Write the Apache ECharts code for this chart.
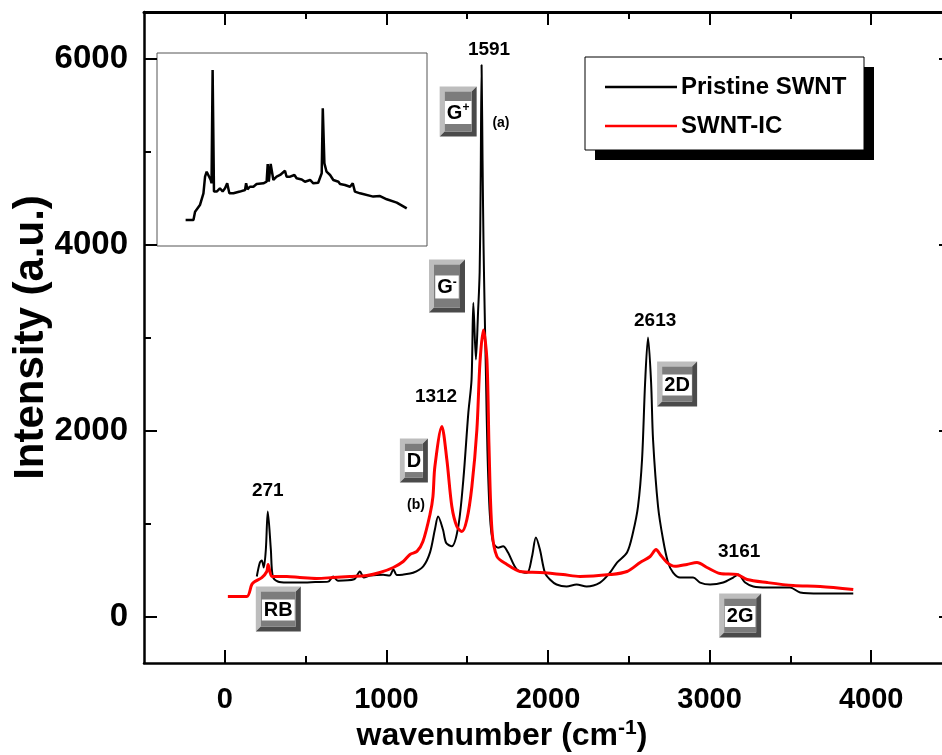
<!DOCTYPE html>
<html><head><meta charset="utf-8">
<script src="https://cdn.jsdelivr.net/npm/echarts@6/dist/echarts.min.js"></script>
<style>html,body{margin:0;padding:0;background:#fff}#c{width:942px;height:755px}</style>
</head><body><div id="c"></div>
<script>
// ---------- data ----------
const seriesNames = ['Pristine SWNT', 'SWNT-IC'];
const pristineWavenumber = [198, 217, 229, 241, 254, 266, 285, 297, 328, 384, 464, 560, 640, 670, 700, 800, 836, 860, 900, 980, 1020, 1043, 1065, 1100, 1165, 1228, 1270, 1300, 1320, 1350, 1370, 1405, 1445, 1476, 1507, 1527, 1538, 1554, 1567, 1577, 1583, 1589, 1595, 1601, 1608, 1616, 1625, 1640, 1660, 1691, 1722, 1752, 1807, 1870, 1901, 1925, 1950, 1981, 2012, 2053, 2115, 2177, 2239, 2322, 2384, 2427, 2489, 2526, 2557, 2582, 2601, 2619, 2638, 2650, 2681, 2712, 2743, 2774, 2817, 2898, 2941, 3003, 3084, 3146, 3177, 3220, 3270, 3357, 3498, 3560, 3684, 3889];
const pristineIntensity = [430, 580, 602, 527, 720, 1130, 720, 430, 376, 365, 365, 370, 375, 430, 385, 400, 485, 420, 440, 450, 440, 505, 445, 450, 470, 540, 690, 935, 1075, 935, 790, 755, 970, 1470, 2190, 2550, 3373, 2763, 3265, 3700, 4600, 5930, 4900, 4000, 3300, 2600, 1800, 1100, 795, 740, 755, 690, 505, 470, 645, 850, 720, 470, 398, 344, 323, 344, 323, 365, 473, 580, 688, 903, 1183, 1688, 2516, 3000, 2516, 1903, 1183, 828, 580, 473, 419, 419, 365, 344, 365, 419, 451, 365, 323, 312, 312, 258, 247, 247];
const icWavenumber = [19, 136, 167, 186, 229, 260, 268, 291, 328, 384, 464, 569, 669, 774, 879, 960, 1043, 1104, 1146, 1189, 1226, 1270, 1288, 1300, 1343, 1374, 1405, 1436, 1467, 1498, 1529, 1560, 1579, 1600, 1622, 1635, 1653, 1684, 1746, 1827, 1950, 2093, 2198, 2384, 2489, 2570, 2632, 2669, 2694, 2737, 2786, 2860, 2922, 2984, 3065, 3170, 3232, 3356, 3517, 3684, 3889];
const icIntensity = [215, 215, 344, 376, 419, 484, 560, 430, 430, 430, 419, 409, 419, 430, 441, 473, 527, 591, 667, 700, 806, 1100, 1290, 1613, 2043, 1688, 1183, 968, 914, 1043, 1398, 2011, 2731, 3080, 2763, 1828, 935, 645, 560, 484, 473, 451, 430, 451, 484, 580, 645, 720, 667, 580, 540, 560, 580, 527, 462, 451, 398, 365, 333, 323, 290];
// inset spectrum (arbitrary units)
const insetX = [10.6, 13.5, 14.1, 15.9, 17.2, 17.8, 18.4, 19.0, 19.9, 20.2, 20.6, 21.1, 22.1, 22.7, 23.3, 24.3, 25.2, 26.0, 26.8, 28.3, 30.7, 32.6, 33.0, 33.5, 34.4, 35.7, 36.9, 39.4, 40.6, 41.0, 41.4, 42.1, 42.6, 43.1, 44.3, 45.6, 47.4, 48.0, 49.3, 50.9, 51.7, 53.6, 54.8, 56.7, 57.9, 59.7, 61.0, 61.4, 62.0, 62.8, 64.1, 65.3, 67.2, 67.8, 69.6, 71.5, 72.5, 73.3, 75.2, 80.1, 82.6, 85.1, 88.8, 92.5];
const insetY = [13.5, 13.5, 17.8, 21.2, 27.3, 35.9, 38.5, 37.7, 34.2, 32.5, 91.2, 28.2, 28.2, 27.3, 29.9, 28.2, 29.9, 32.5, 27.3, 27.3, 28.2, 29.0, 32.5, 29.4, 30.7, 30.7, 32.1, 32.5, 33.3, 42.5, 33.3, 42.5, 42.5, 34.2, 35.9, 36.8, 39.0, 35.9, 35.9, 36.8, 35.1, 34.5, 33.3, 34.2, 32.5, 32.8, 37.7, 71.3, 42.8, 38.5, 36.8, 34.2, 33.3, 32.1, 31.6, 30.7, 32.5, 28.2, 27.3, 25.6, 25.9, 24.2, 22.5, 19.5];
const xMajorTicks = [0, 1000, 2000, 3000, 4000];
const xMinorTicks = [500, 1500, 2500, 3500];
const yMajorTicks = [0, 2000, 4000, 6000];
const yMinorTicks = [1000, 3000, 5000];
const peakTexts = ['1591', '(a)', '1312', '(b)', '271', '2613', '3161'];
const bandTexts = ['G+', 'G-', 'D', 'RB', '2D', '2G'];

// ---------- layout (data-space anchors for annotations) ----------
const peakAnchors = [[1635, 6097, 19], [1709, 5301, 14], [1307, 2366, 19], [1183, 1194, 14], [266, 1355, 19], [2663, 3183, 19], [3183, 699, 19]];
const bandAnchors = [[1444, 5430, 37, 50], [1375, 3554, 36, 53], [1170, 1677, 28, 44], [331, 80, 45, 45], [2799, 2500, 40, 45], [3189, 11, 42, 44]];

const SANS = '"Liberation Sans", Arial, sans-serif';

const chart = echarts.init(document.getElementById('c'), null, {renderer: 'canvas'});
const XMIN = -500, XMAX = 4500, YMIN = -500, YMAX = 6500;
const plain = v => String(v);
function xAx(extra) {
  return Object.assign({type: 'value', gridIndex: 0, min: XMIN, max: XMAX, interval: 500,
    splitLine: {show: false}, axisLabel: {show: false}, axisLine: {show: false, onZero: false}}, extra);
}
function yAx(extra) {
  return Object.assign({type: 'value', gridIndex: 0, min: YMIN, max: YMAX, interval: 500,
    splitLine: {show: false}, axisLabel: {show: false}, axisLine: {show: false, onZero: false}}, extra);
}
const lineC = '#000';
const option = {
  animation: false,
  backgroundColor: '#fff',
  grid: [
    {left: 144, top: 12, width: 808, height: 651, show: false, containLabel: false, outerBoundsMode: 'none'},
    {left: 157, top: 53, width: 270, height: 193, show: true, borderColor: '#555', borderWidth: 1,
      backgroundColor: 'transparent', containLabel: false, outerBoundsMode: 'none'}
  ],
  legend: {
    orient: 'vertical', left: 600, top: 70, itemWidth: 72, itemHeight: 2.5, itemGap: 15,
    icon: 'rect',
    data: seriesNames,
    textStyle: {fontFamily: SANS, fontWeight: 'bold', fontSize: 24, color: '#000', padding: [0, 0, 0, -1], lineHeight: 24}
  },
  xAxis: [
    xAx({position: 'bottom', axisLine: {show: true, onZero: false, lineStyle: {color: lineC, width: 2.5}},
      axisTick: {show: true, inside: true, length: 13, customValues: xMajorTicks, lineStyle: {color: lineC, width: 2}},
      axisLabel: {show: true, customValues: xMajorTicks, formatter: plain, margin: 22, fontFamily: SANS, fontWeight: 'bold', fontSize: 29, color: '#000'},
      name: '{a|wavenumber (cm}{s|-1}{a|)}', nameLocation: 'middle', nameGap: 55, nameMoveOverlap: false,
      nameTextStyle: {padding: [0, 92, 0, 0], rich: {
        a: {fontFamily: SANS, fontWeight: 'bold', fontSize: 32, color: '#000', lineHeight: 36},
        s: {fontFamily: SANS, fontWeight: 'bold', fontSize: 21, color: '#000', verticalAlign: 'top', lineHeight: 19}
      }}}),
    xAx({position: 'bottom', axisTick: {show: true, inside: true, length: 7, customValues: xMinorTicks, lineStyle: {color: lineC, width: 2}}}),
    xAx({position: 'top', axisLine: {show: true, onZero: false, lineStyle: {color: lineC, width: 3}},
      axisTick: {show: true, inside: true, length: 13, customValues: xMajorTicks, lineStyle: {color: lineC, width: 2}}}),
    xAx({position: 'top', axisTick: {show: true, inside: true, length: 7, customValues: xMinorTicks, lineStyle: {color: lineC, width: 2}}}),
    {type: 'value', gridIndex: 1, min: 0, max: 100, show: false, axisLine: {onZero: false}}
  ],
  yAxis: [
    yAx({position: 'left', axisLine: {show: true, onZero: false, lineStyle: {color: lineC, width: 2.5}},
      axisTick: {show: true, inside: true, length: 13, customValues: yMajorTicks, lineStyle: {color: lineC, width: 2}},
      axisLabel: {show: true, customValues: yMajorTicks, formatter: plain, margin: 16, fontFamily: SANS, fontWeight: 'bold', fontSize: 33, color: '#000'},
      name: 'Intensity (a.u.)', nameLocation: 'middle', nameGap: 92, nameRotate: 90, nameMoveOverlap: false,
      nameTextStyle: {fontFamily: SANS, fontWeight: 'bold', fontSize: 42, color: '#000'}}),
    yAx({position: 'left', axisTick: {show: true, inside: true, length: 7, customValues: yMinorTicks, lineStyle: {color: lineC, width: 2}}}),
    yAx({position: 'right', axisLine: {show: true, onZero: false, lineStyle: {color: lineC, width: 2.5}},
      axisTick: {show: true, inside: true, length: 13, customValues: yMajorTicks, lineStyle: {color: lineC, width: 2}}}),
    yAx({position: 'right', axisTick: {show: true, inside: true, length: 6, customValues: yMinorTicks, lineStyle: {color: lineC, width: 2}}}),
    {type: 'value', gridIndex: 1, min: 0, max: 100, show: false, axisLine: {onZero: false}}
  ],
  series: [
    {name: seriesNames[0], type: 'line', xAxisIndex: 0, yAxisIndex: 0, symbol: 'none', smooth: 0.3,
      lineStyle: {color: '#000', width: 2}, itemStyle: {color: '#000'},
      data: pristineWavenumber.map((x, i) => [x, pristineIntensity[i]])},
    {name: seriesNames[1], type: 'line', xAxisIndex: 0, yAxisIndex: 0, symbol: 'none', smooth: 0.3,
      lineStyle: {color: '#ff0000', width: 3}, itemStyle: {color: '#ff0000'},
      data: icWavenumber.map((x, i) => [x, icIntensity[i]])},
    {name: 'inset', type: 'line', xAxisIndex: 4, yAxisIndex: 4, symbol: 'none',
      lineStyle: {color: '#000', width: 2.5}, silent: true,
      data: insetX.map((x, i) => [x, insetY[i]])}
  ]
};
chart.setOption(option);

function toPx(p) { return chart.convertToPixel({xAxisIndex: 0, yAxisIndex: 0}, p); }
const graphics = [];
// legend frame + shadow
graphics.push({type: 'rect', z: 1, shape: {x: 595, y: 67, width: 279, height: 93}, style: {fill: '#000'}});
graphics.push({type: 'rect', z: 2, shape: {x: 585, y: 57, width: 279, height: 93}, style: {fill: '#fff', stroke: '#000', lineWidth: 1}});
// peak labels
peakTexts.forEach((t, i) => {
  const a = peakAnchors[i];
  const p = toPx([a[0], a[1]]);
  graphics.push({type: 'text', z: 20, x: p[0], y: p[1],
    style: {text: t, fill: '#000', font: 'bold ' + a[2] + 'px ' + SANS, align: 'center', verticalAlign: 'middle'}});
});
// band boxes (bevelled buttons)
bandTexts.forEach((t, i) => {
  const a = bandAnchors[i];
  const p = toPx([a[0], a[1]]);
  const w = a[2], h = a[3], b = 5;
  let txt, rich;
  if (t === 'G+' || t === 'G-') {
    txt = '{g|G}{s|' + (t === 'G+' ? '+' : '-') + '}';
    rich = {g: {font: 'bold 20px ' + SANS, fill: '#000', lineHeight: 22},
            s: {font: 'bold 12px ' + SANS, fill: '#000', verticalAlign: 'top', lineHeight: 12}};
  } else {
    txt = t;
    rich = null;
  }
  const textStyle = {text: txt, fill: '#000', font: 'bold 20px ' + SANS, align: 'center', verticalAlign: 'middle',
    backgroundColor: '#fff', padding: [1, 2, 0, 2]};
  if (rich) textStyle.rich = rich;
  graphics.push({type: 'group', z: 20, x: p[0] - w / 2, y: p[1] - h / 2, children: [
    {type: 'polygon', shape: {points: [[0, 0], [w, 0], [w - b, b], [b, b], [b, h - b], [0, h]]}, style: {fill: '#bdbdbd'}},
    {type: 'polygon', shape: {points: [[w, 0], [w, h], [0, h], [b, h - b], [w - b, h - b], [w - b, b]]}, style: {fill: '#4a4a4a'}},
    {type: 'rect', shape: {x: b, y: b, width: w - 2 * b, height: h - 2 * b}, style: {fill: '#7c7c7c'}},
    {type: 'text', x: w / 2, y: h / 2 + 1, style: textStyle}
  ]});
});
chart.setOption({graphic: graphics});
</script></body></html>
